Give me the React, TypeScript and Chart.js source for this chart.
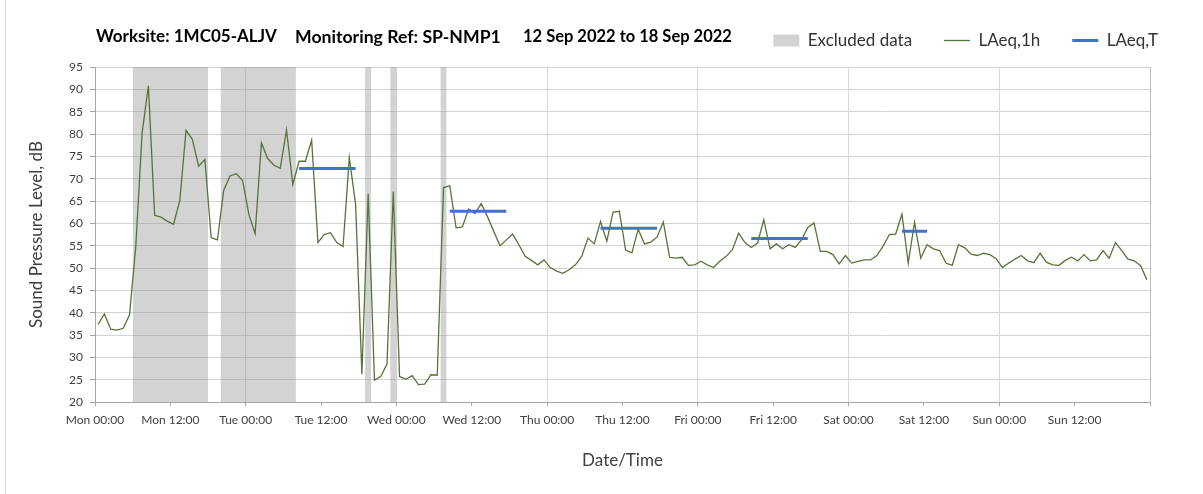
import React, { useEffect, useRef } from 'react';
import { Chart, registerables } from 'chart.js';

Chart.register(...registerables);

// ---------- data ----------
const titleParts = ['Worksite: 1MC05-ALJV', 'Monitoring Ref: SP-NMP1', '12 Sep 2022 to 18 Sep 2022'];

// hourly LAeq,1h values, Mon 00:00 .. Sun 23:00
const laeq1h = [
  37.4, 39.7, 36.3, 36.1, 36.5, 39.5, 55.0, 80.2, 90.8, 61.8, 61.4, 60.5,
  59.8, 65.1, 80.8, 78.8, 72.8, 74.3, 56.8, 56.3, 67.4, 70.6, 71.1, 69.6,
  62.0, 57.7, 78.0, 74.5, 73.0, 72.3, 80.9, 68.7, 73.9, 73.9, 78.6, 55.7,
  57.5, 57.9, 55.7, 54.8, 74.7, 64.2, 26.3, 66.6, 24.9, 25.7, 28.5, 67.1,
  25.7, 25.1, 25.9, 23.9, 24.0, 26.1, 26.0, 68.0, 68.4, 59.0, 59.2, 63.2,
  62.2, 64.4, 61.5, 58.2, 55.0, 56.3, 57.6, 55.2, 52.6, 51.7, 50.7, 51.8,
  50.1, 49.3, 48.8, 49.6, 50.7, 52.6, 56.7, 55.4, 60.4, 56.0, 62.5, 62.7,
  54.0, 53.4, 58.7, 55.4, 55.8, 56.9, 60.3, 52.4, 52.2, 52.4, 50.6, 50.7,
  51.5, 50.7, 50.1, 51.5, 52.6, 54.1, 57.8, 55.7, 54.6, 55.6, 60.8, 54.3,
  55.4, 54.3, 55.2, 54.6, 56.3, 59.1, 60.1, 53.7, 53.7, 53.0, 50.9, 52.8,
  51.1, 51.5, 51.8, 51.8, 52.8, 54.9, 57.5, 57.6, 62.1, 51.1, 60.2, 52.2,
  55.2, 54.3, 53.9, 51.1, 50.6, 55.2, 54.5, 53.1, 52.8, 53.3, 53.0, 52.1,
  50.1, 51.1, 52.0, 52.8, 51.6, 51.2, 53.3, 51.3, 50.7, 50.6, 51.7, 52.4,
  51.6, 53.0, 51.6, 51.8, 53.9, 52.2, 55.7, 53.9, 52.0, 51.6, 50.5, 47.4,
];

// excluded periods (hour start, hour end exclusive)
const excludedStart = [6, 20, 43, 47, 55];
const excludedEnd = [18, 32, 44, 48, 56];

// LAeq,T periods (first hour, last hour, level)
const laeqTFirstHour = [32, 56, 80, 104, 128];
const laeqTLastHour = [41, 65, 89, 113, 132];
const laeqTValues = [72.3, 62.7, 58.9, 56.6, 58.2];

const xTickLabels = [
  'Mon 00:00', 'Mon 12:00', 'Tue 00:00', 'Tue 12:00', 'Wed 00:00', 'Wed 12:00',
  'Thu 00:00', 'Thu 12:00', 'Fri 00:00', 'Fri 12:00', 'Sat 00:00', 'Sat 12:00',
  'Sun 00:00', 'Sun 12:00', '',
];
const yMin = 20;
const yMax = 95;
const yStep = 5;
const xMin = 0;
const xMax = 168;
const xStep = 12;

const FONT = 'Lato, "Noto Sans", sans-serif';
const TEXT = '#404040';

const headerPlugin = {
  id: 'header',
  afterDraw(chart: any) {
    const ctx = chart.ctx;
    const xs = [96, 295, 523];
    const widths = [181, 206, 209];
    ctx.save();
    ctx.fillStyle = '#000000';
    ctx.textBaseline = 'middle';
    ctx.textAlign = 'left';
    titleParts.forEach((t, k) => {
      let size = 16;
      ctx.font = `bold ${size}px ${FONT}`;
      const w = ctx.measureText(t).width;
      size = Math.max(13, Math.min(18, (size * widths[k]) / w));
      ctx.font = `bold ${size}px ${FONT}`;
      ctx.fillText(t, xs[k], 37);
    });
    ctx.restore();
  },
};

export default function App() {
  const ref = useRef<HTMLCanvasElement | null>(null);

  useEffect(() => {
    if (!ref.current) return;
    Chart.defaults.font.family = FONT;

    const lineData = laeq1h.map((v, i) => ({ x: i + 0.5, y: v }));
    const excludedData: any[] = [];
    excludedStart.forEach((s, k) => {
      excludedData.push({ x: s, y: yMax }, { x: excludedEnd[k], y: yMax }, { x: excludedEnd[k], y: null });
    });
    const laeqTData: any[] = [];
    laeqTFirstHour.forEach((h, k) => {
      laeqTData.push(
        { x: h + 0.5, y: laeqTValues[k] },
        { x: laeqTLastHour[k] + 0.5, y: laeqTValues[k] },
        { x: laeqTLastHour[k] + 0.5, y: null },
      );
    });

    const chart = new Chart(ref.current, {
      type: 'line',
      data: {
        datasets: [
          {
            label: 'Excluded data',
            data: excludedData,
            borderColor: 'rgba(0,0,0,0)',
            borderWidth: 0,
            backgroundColor: 'rgba(140,140,140,0.38)',
            fill: 'start',
            pointRadius: 0,
            pointStyle: 'rect',
            pointBorderWidth: 0,
            spanGaps: false,
            order: 3,
          } as any,
          {
            label: 'LAeq,1h',
            data: lineData,
            borderColor: '#56743a',
            backgroundColor: '#56743a',
            borderWidth: 1.3,
            pointRadius: 0,
            pointStyle: 'line',
            pointBorderWidth: 1.3,
            tension: 0,
            fill: false,
            order: 2,
          } as any,
          {
            label: 'LAeq,T',
            data: laeqTData,
            borderColor: '#4472c4',
            backgroundColor: '#4472c4',
            borderWidth: 3,
            pointRadius: 0,
            pointStyle: 'line',
            pointBorderWidth: 3,
            spanGaps: false,
            fill: false,
            order: 1,
          } as any,
        ],
      },
      options: {
        responsive: false,
        animation: false,
        devicePixelRatio: 1,
        layout: { padding: { top: 0, left: 0, right: 13, bottom: 0 } },
        plugins: {
          tooltip: { enabled: false },
          title: { display: false },
          subtitle: {
            display: true,
            text: '',
            weight: 500,
            padding: 0,
            font: { size: 8, lineHeight: 1 },
          } as any,
          legend: {
            display: true,
            position: 'top',
            align: 'end',
            labels: {
              usePointStyle: true,
              pointStyleWidth: 26,
              boxHeight: 12,
              padding: 32,
              color: '#333333',
              font: { size: 17, family: FONT },
              sort: (a: any, b: any) => a.datasetIndex - b.datasetIndex,
            },
          },
        },
        scales: {
          x: {
            type: 'linear',
            min: xMin,
            max: xMax,
            afterFit: (s: any) => {
              s.height = 92;
            },
            ticks: {
              stepSize: xStep,
              autoSkip: false,
              maxRotation: 0,
              minRotation: 0,
              padding: 7,
              color: TEXT,
              font: { size: 12 },
              callback: (_v: any, i: number) => xTickLabels[i] ?? '',
            },
            grid: {
              color: (c: any) =>
                c.tick && c.tick.value % 24 === 0
                  ? c.tick.value === xMax
                    ? '#bfbfbf'
                    : '#d9d9d9'
                  : 'rgba(0,0,0,0)',
              tickColor: '#a6a6a6',
              tickLength: 4,
              lineWidth: 1,
            },
            border: { display: true, color: '#a6a6a6', width: 1 },
            title: {
              display: true,
              text: 'Date/Time',
              color: TEXT,
              font: { size: 17 },
              padding: { top: 0, bottom: 22.8 },
            },
          },
          y: {
            type: 'linear',
            position: 'left',
            min: yMin,
            max: yMax,
            afterFit: (s: any) => {
              s.width = 95;
            },
            ticks: {
              stepSize: yStep,
              padding: 7,
              color: TEXT,
              font: { size: 12 },
            },
            grid: {
              color: '#d3d3d3',
              tickColor: '#a6a6a6',
              tickLength: 5,
              lineWidth: 1,
            },
            border: { display: true, color: '#a6a6a6', width: 1 },
            title: {
              display: true,
              text: 'Sound Pressure Level, dB',
              color: TEXT,
              font: { size: 17 },
              padding: { top: 26.8, bottom: 0 },
            },
          },
          spacer: {
            type: 'linear',
            position: 'right',
            display: true,
            afterFit: (s: any) => {
              s.width = 40;
            },
            ticks: { display: false },
            grid: { display: false, drawOnChartArea: false },
            border: { display: false },
          } as any,
        },
      },
      plugins: [headerPlugin],
    });

    return () => chart.destroy();
  }, []);

  return (
    <div style={{ position: 'fixed', left: 0, top: 0, width: 1203, height: 494, background: '#ffffff' }}>
      <div style={{ position: 'absolute', left: 5, top: 0, width: 1, height: 494, background: '#d9d9d9' }} />
      <canvas ref={ref} width={1203} height={494} style={{ display: 'block' }} />
    </div>
  );
}
